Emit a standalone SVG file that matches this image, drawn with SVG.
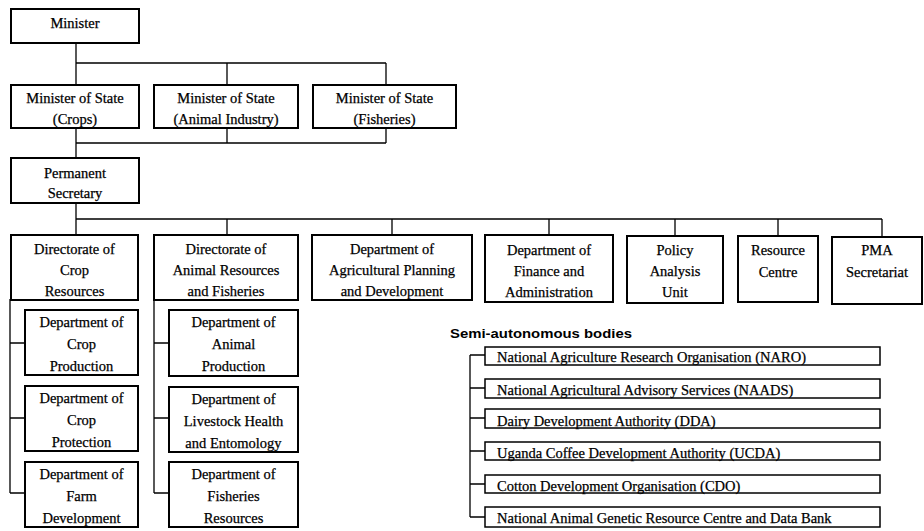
<svg xmlns="http://www.w3.org/2000/svg" width="924" height="531" viewBox="0 0 924 531">
  <style>
    .box { fill: #fff; stroke: #000; stroke-width: 2; }
    .sbox { fill: #fff; stroke: #000; stroke-width: 1.5; }
    .c { fill: none; stroke: #000; stroke-width: 1.3; }
    .t { font-family: "Liberation Serif", "Times New Roman", serif; font-size: 14.5px; fill: #000; stroke: #000; stroke-width: 0.25; text-anchor: middle; }
    .l { font-family: "Liberation Serif", "Times New Roman", serif; font-size: 14.5px; fill: #000; stroke: #000; stroke-width: 0.25; }
    .h { font-family: "Liberation Sans", Arial, sans-serif; font-size: 13.5px; font-weight: bold; fill: #000; }
  </style>
  <rect width="924" height="531" fill="#fff"/>

  <!-- connectors -->
  <g id="connectors" class="c">
    <!-- Minister to Ministers of State -->
    <path d="M76 43 V85 M76 63 H386 M227 63 V85 M386 63 V85"/>
    <!-- Ministers of State to Permanent Secretary -->
    <path d="M76 128 V158 M76 143 H386 M227 128 V143 M386 128 V143"/>
    <!-- Permanent Secretary to directorates and departments -->
    <path d="M76 203 V235 M76 219 H882 M227 219 V235 M392 219 V235 M549 219 V235 M675 219 V236 M778 219 V236 M882 219 V237"/>
    <!-- crop directorate branches -->
    <path d="M10 299 V493 M10 343 H25 M10 418 H25 M10 493 H25"/>
    <!-- animal directorate branches -->
    <path d="M154 300 V493 M154 343 H169 M154 418 H169 M154 493 H169"/>
    <!-- semi-autonomous bodies -->
    <path d="M470 355 V517 M470 355 H485 M470 388 H485 M470 418 H485 M470 451 H485 M470 484 H485 M470 517 H485"/>
  </g>

  <g id="minister">
    <rect class="box" x="11" y="9" width="128" height="34"/>
    <text class="t" x="75" y="28">Minister</text>
  </g>

  <g id="mos-crops">
    <rect class="box" x="11" y="85" width="128" height="43"/>
    <text class="t" x="75" y="103">Minister of State</text>
    <text class="t" x="75" y="124">(Crops)</text>
  </g>
  <g id="mos-animal">
    <rect class="box" x="154" y="85" width="144" height="43"/>
    <text class="t" x="226" y="103">Minister of State</text>
    <text class="t" x="226" y="124">(Animal Industry)</text>
  </g>
  <g id="mos-fisheries">
    <rect class="box" x="313" y="85" width="143" height="43"/>
    <text class="t" x="384.5" y="103">Minister of State</text>
    <text class="t" x="384.5" y="124">(Fisheries)</text>
  </g>

  <g id="permanent-secretary">
    <rect class="box" x="11" y="158" width="128" height="45"/>
    <text class="t" x="75" y="178">Permanent</text>
    <text class="t" x="75" y="198">Secretary</text>
  </g>

  <g id="dir-crop">
    <rect class="box" x="11" y="235" width="127" height="65"/>
    <text class="t" x="74.5" y="254">Directorate of</text>
    <text class="t" x="74.5" y="275">Crop</text>
    <text class="t" x="74.5" y="296">Resources</text>
  </g>
  <g id="dir-animal">
    <rect class="box" x="154" y="235" width="144" height="65"/>
    <text class="t" x="226" y="254">Directorate of</text>
    <text class="t" x="226" y="275">Animal Resources</text>
    <text class="t" x="226" y="296">and Fisheries</text>
  </g>
  <g id="dept-planning">
    <rect class="box" x="312" y="235" width="160" height="65"/>
    <text class="t" x="392" y="254">Department of</text>
    <text class="t" x="392" y="275">Agricultural Planning</text>
    <text class="t" x="392" y="296">and Development</text>
  </g>
  <g id="dept-finance">
    <rect class="box" x="485" y="235" width="128" height="67"/>
    <text class="t" x="549" y="255">Department of</text>
    <text class="t" x="549" y="276">Finance and</text>
    <text class="t" x="549" y="297">Administration</text>
  </g>
  <g id="policy-unit">
    <rect class="box" x="627" y="236" width="96" height="67"/>
    <text class="t" x="675" y="255">Policy</text>
    <text class="t" x="675" y="276">Analysis</text>
    <text class="t" x="675" y="297">Unit</text>
  </g>
  <g id="resource-centre">
    <rect class="box" x="738" y="236" width="80" height="66"/>
    <text class="t" x="778" y="255">Resource</text>
    <text class="t" x="778" y="277">Centre</text>
  </g>
  <g id="pma-secretariat">
    <rect class="box" x="832" y="237" width="90" height="67"/>
    <text class="t" x="877" y="255">PMA</text>
    <text class="t" x="877" y="277">Secretariat</text>
  </g>

  <g id="dept-crop-production">
    <rect class="box" x="25" y="310" width="113" height="65"/>
    <text class="t" x="81.5" y="327">Department of</text>
    <text class="t" x="81.5" y="349">Crop</text>
    <text class="t" x="81.5" y="371">Production</text>
  </g>
  <g id="dept-crop-protection">
    <rect class="box" x="25" y="386" width="113" height="65"/>
    <text class="t" x="81.5" y="403">Department of</text>
    <text class="t" x="81.5" y="425">Crop</text>
    <text class="t" x="81.5" y="447">Protection</text>
  </g>
  <g id="dept-farm-development">
    <rect class="box" x="25" y="462" width="113" height="65"/>
    <text class="t" x="81.5" y="479">Department of</text>
    <text class="t" x="81.5" y="501">Farm</text>
    <text class="t" x="81.5" y="523">Development</text>
  </g>

  <g id="dept-animal-production">
    <rect class="box" x="169" y="310" width="129" height="66"/>
    <text class="t" x="233.5" y="327">Department of</text>
    <text class="t" x="233.5" y="349">Animal</text>
    <text class="t" x="233.5" y="371">Production</text>
  </g>
  <g id="dept-livestock">
    <rect class="box" x="169" y="387" width="129" height="65"/>
    <text class="t" x="233.5" y="404">Department of</text>
    <text class="t" x="233.5" y="426">Livestock Health</text>
    <text class="t" x="233.5" y="448">and Entomology</text>
  </g>
  <g id="dept-fisheries-resources">
    <rect class="box" x="169" y="462" width="129" height="65"/>
    <text class="t" x="233.5" y="479">Department of</text>
    <text class="t" x="233.5" y="501">Fisheries</text>
    <text class="t" x="233.5" y="523">Resources</text>
  </g>

  <text class="h" x="450" y="338" textLength="182" lengthAdjust="spacingAndGlyphs">Semi-autonomous bodies</text>

  <g id="naro">
    <rect class="sbox" x="485" y="347" width="395" height="18"/>
    <text class="l" x="497" y="362">National Agriculture Research Organisation (NARO)</text>
  </g>
  <g id="naads">
    <rect class="sbox" x="485" y="379" width="395" height="19"/>
    <text class="l" x="497" y="395">National Agricultural Advisory Services (NAADS)</text>
  </g>
  <g id="dda">
    <rect class="sbox" x="485" y="409" width="395" height="19"/>
    <text class="l" x="497" y="426">Dairy Development Authority (DDA)</text>
  </g>
  <g id="ucda">
    <rect class="sbox" x="485" y="442" width="395" height="18"/>
    <text class="l" x="497" y="458">Uganda Coffee Development Authority (UCDA)</text>
  </g>
  <g id="cdo">
    <rect class="sbox" x="485" y="475" width="395" height="18"/>
    <text class="l" x="497" y="491">Cotton Development Organisation (CDO)</text>
  </g>
  <g id="nagrc">
    <rect class="sbox" x="485" y="507" width="395" height="20"/>
    <text class="l" x="497" y="523">National Animal Genetic Resource Centre and Data Bank</text>
  </g>
</svg>
